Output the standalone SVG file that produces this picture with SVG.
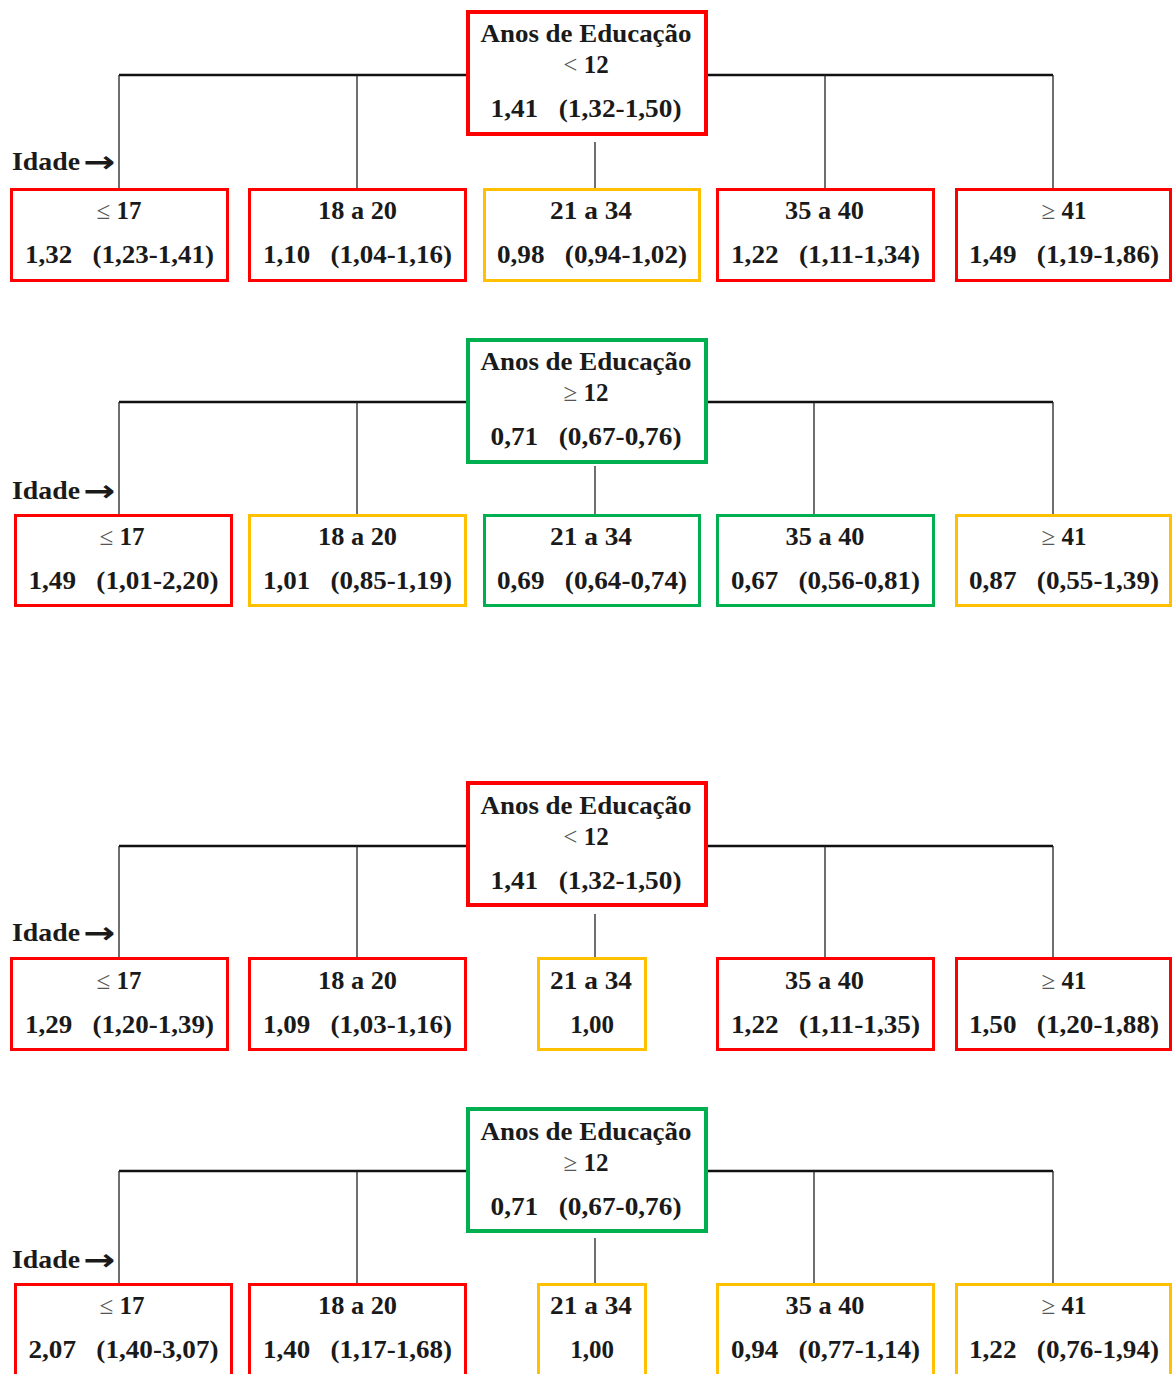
<svg xmlns="http://www.w3.org/2000/svg" width="1174" height="1374" viewBox="0 0 1174 1374">
<style>
text{font-family:"Liberation Serif","Times New Roman",serif;font-weight:bold;font-size:25px;fill:#1a1a1a;text-anchor:middle;white-space:pre}
.sym{font-weight:normal;fill:#555}
.p{fill:#fff;stroke-width:4}
.c{fill:#fff;stroke-width:3}
.red{stroke:#ff0000}
.yel{stroke:#ffc000}
.grn{stroke:#00b050}
.h{stroke:#111;stroke-width:2.4;fill:none}
.v{stroke:#222;stroke-width:1.3;fill:none}
.idade{text-anchor:start}
.arr{text-anchor:start;font-family:"DejaVu Sans",sans-serif;font-size:30px}
</style>
<rect width="1174" height="1374" fill="#fff"/>
<g id="connectors">
<path class="h" d="M119 75H466M708 75H1053"/>
<path class="v" d="M119 75V188M357 75V188M825 75V188M1053 75V188M595 142V188"/>
<path class="h" d="M119 402H466M708 402H1053"/>
<path class="v" d="M119 402V514M357 402V514M814 402V514M1053 402V514M595 466V514"/>
<path class="h" d="M119 846H466M708 846H1053"/>
<path class="v" d="M119 846V957M357 846V957M825 846V957M1053 846V957M595 914V957"/>
<path class="h" d="M119 1171H466M708 1171H1053"/>
<path class="v" d="M119 1171V1283M357 1171V1283M814 1171V1283M1053 1171V1283M595 1238V1283"/>
</g>
<g id="labels">
<text class="idade" x="12" y="170" textLength="68" lengthAdjust="spacingAndGlyphs">Idade</text>
<text class="arr" x="83" y="172" textLength="32" lengthAdjust="spacingAndGlyphs">→</text>
<text class="idade" x="12" y="499" textLength="68" lengthAdjust="spacingAndGlyphs">Idade</text>
<text class="arr" x="83" y="501" textLength="32" lengthAdjust="spacingAndGlyphs">→</text>
<text class="idade" x="12" y="941" textLength="68" lengthAdjust="spacingAndGlyphs">Idade</text>
<text class="arr" x="83" y="943" textLength="32" lengthAdjust="spacingAndGlyphs">→</text>
<text class="idade" x="12" y="1268" textLength="68" lengthAdjust="spacingAndGlyphs">Idade</text>
<text class="arr" x="83" y="1270" textLength="32" lengthAdjust="spacingAndGlyphs">→</text>
</g>
<!-- Section 1 -->
<g id="s1-parent">
<rect class="p red" x="468" y="12" width="238" height="122"/>
<text x="586" y="42" textLength="211" lengthAdjust="spacingAndGlyphs">Anos de Educação</text>
<text x="586" y="73"><tspan class="sym">&lt;</tspan> 12</text>
<text x="586" y="117" textLength="191" lengthAdjust="spacingAndGlyphs">1,41   (1,32-1,50)</text>
</g>
<g id="s1-c1"><rect class="c red" x="11.5" y="189.5" width="216" height="91"/>
<text x="119" y="219"><tspan class="sym">≤</tspan> 17</text>
<text x="119.5" y="263" textLength="189" lengthAdjust="spacingAndGlyphs">1,32   (1,23-1,41)</text></g>
<g id="s1-c2"><rect class="c red" x="249.5" y="189.5" width="216" height="91"/>
<text x="357.5" y="219" textLength="79" lengthAdjust="spacingAndGlyphs">18 a 20</text>
<text x="357.5" y="263" textLength="189" lengthAdjust="spacingAndGlyphs">1,10   (1,04-1,16)</text></g>
<g id="s1-c3"><rect class="c yel" x="484.5" y="189.5" width="215" height="91"/>
<text x="591" y="219" textLength="82" lengthAdjust="spacingAndGlyphs">21 a 34</text>
<text x="592" y="263" textLength="190" lengthAdjust="spacingAndGlyphs">0,98   (0,94-1,02)</text></g>
<g id="s1-c4"><rect class="c red" x="717.5" y="189.5" width="216" height="91"/>
<text x="824.5" y="219" textLength="79" lengthAdjust="spacingAndGlyphs">35 a 40</text>
<text x="825.5" y="263" textLength="189" lengthAdjust="spacingAndGlyphs">1,22   (1,11-1,34)</text></g>
<g id="s1-c5"><rect class="c red" x="956.5" y="189.5" width="214" height="91"/>
<text x="1064" y="219"><tspan class="sym">≥</tspan> 41</text>
<text x="1064" y="263" textLength="190" lengthAdjust="spacingAndGlyphs">1,49   (1,19-1,86)</text></g>
<!-- Section 2 -->
<g id="s2-parent">
<rect class="p grn" x="468" y="340" width="238" height="122"/>
<text x="586" y="370" textLength="211" lengthAdjust="spacingAndGlyphs">Anos de Educação</text>
<text x="586" y="401"><tspan class="sym">≥</tspan> 12</text>
<text x="586" y="445" textLength="191" lengthAdjust="spacingAndGlyphs">0,71   (0,67-0,76)</text>
</g>
<g id="s2-c1"><rect class="c red" x="15.5" y="515.5" width="216" height="90"/>
<text x="122" y="545"><tspan class="sym">≤</tspan> 17</text>
<text x="123.5" y="589" textLength="190" lengthAdjust="spacingAndGlyphs">1,49   (1,01-2,20)</text></g>
<g id="s2-c2"><rect class="c yel" x="249.5" y="515.5" width="216" height="90"/>
<text x="357.5" y="545" textLength="79" lengthAdjust="spacingAndGlyphs">18 a 20</text>
<text x="357.5" y="589" textLength="189" lengthAdjust="spacingAndGlyphs">1,01   (0,85-1,19)</text></g>
<g id="s2-c3"><rect class="c grn" x="484.5" y="515.5" width="215" height="90"/>
<text x="591" y="545" textLength="82" lengthAdjust="spacingAndGlyphs">21 a 34</text>
<text x="592" y="589" textLength="190" lengthAdjust="spacingAndGlyphs">0,69   (0,64-0,74)</text></g>
<g id="s2-c4"><rect class="c grn" x="717.5" y="515.5" width="216" height="90"/>
<text x="825" y="545" textLength="79" lengthAdjust="spacingAndGlyphs">35 a 40</text>
<text x="825.5" y="589" textLength="189" lengthAdjust="spacingAndGlyphs">0,67   (0,56-0,81)</text></g>
<g id="s2-c5"><rect class="c yel" x="956.5" y="515.5" width="214" height="90"/>
<text x="1064" y="545"><tspan class="sym">≥</tspan> 41</text>
<text x="1064" y="589" textLength="190" lengthAdjust="spacingAndGlyphs">0,87   (0,55-1,39)</text></g>
<!-- Section 3 -->
<g id="s3-parent">
<rect class="p red" x="468" y="783" width="238" height="122"/>
<text x="586" y="814" textLength="211" lengthAdjust="spacingAndGlyphs">Anos de Educação</text>
<text x="586" y="845"><tspan class="sym">&lt;</tspan> 12</text>
<text x="586" y="889" textLength="191" lengthAdjust="spacingAndGlyphs">1,41   (1,32-1,50)</text>
</g>
<g id="s3-c1"><rect class="c red" x="11.5" y="958.5" width="216" height="91"/>
<text x="119" y="989"><tspan class="sym">≤</tspan> 17</text>
<text x="119.5" y="1033" textLength="189" lengthAdjust="spacingAndGlyphs">1,29   (1,20-1,39)</text></g>
<g id="s3-c2"><rect class="c red" x="249.5" y="958.5" width="216" height="91"/>
<text x="357.5" y="989" textLength="79" lengthAdjust="spacingAndGlyphs">18 a 20</text>
<text x="357.5" y="1033" textLength="189" lengthAdjust="spacingAndGlyphs">1,09   (1,03-1,16)</text></g>
<g id="s3-c3"><rect class="c yel" x="538.5" y="958.5" width="107" height="91"/>
<text x="591" y="989" textLength="82" lengthAdjust="spacingAndGlyphs">21 a 34</text>
<text x="592" y="1033">1,00</text></g>
<g id="s3-c4"><rect class="c red" x="717.5" y="958.5" width="216" height="91"/>
<text x="824.5" y="989" textLength="79" lengthAdjust="spacingAndGlyphs">35 a 40</text>
<text x="825.5" y="1033" textLength="189" lengthAdjust="spacingAndGlyphs">1,22   (1,11-1,35)</text></g>
<g id="s3-c5"><rect class="c red" x="956.5" y="958.5" width="214" height="91"/>
<text x="1064" y="989"><tspan class="sym">≥</tspan> 41</text>
<text x="1064" y="1033" textLength="190" lengthAdjust="spacingAndGlyphs">1,50   (1,20-1,88)</text></g>
<!-- Section 4 -->
<g id="s4-parent">
<rect class="p grn" x="468" y="1109" width="238" height="122"/>
<text x="586" y="1140" textLength="211" lengthAdjust="spacingAndGlyphs">Anos de Educação</text>
<text x="586" y="1171"><tspan class="sym">≥</tspan> 12</text>
<text x="586" y="1215" textLength="191" lengthAdjust="spacingAndGlyphs">0,71   (0,67-0,76)</text>
</g>
<g id="s4-c1"><rect class="c red" x="15.5" y="1284.5" width="216" height="100"/>
<text x="122" y="1314"><tspan class="sym">≤</tspan> 17</text>
<text x="123.5" y="1358" textLength="190" lengthAdjust="spacingAndGlyphs">2,07   (1,40-3,07)</text></g>
<g id="s4-c2"><rect class="c red" x="249.5" y="1284.5" width="216" height="100"/>
<text x="357.5" y="1314" textLength="79" lengthAdjust="spacingAndGlyphs">18 a 20</text>
<text x="357.5" y="1358" textLength="189" lengthAdjust="spacingAndGlyphs">1,40   (1,17-1,68)</text></g>
<g id="s4-c3"><rect class="c yel" x="538.5" y="1284.5" width="107" height="100"/>
<text x="591" y="1314" textLength="82" lengthAdjust="spacingAndGlyphs">21 a 34</text>
<text x="592" y="1358">1,00</text></g>
<g id="s4-c4"><rect class="c yel" x="717.5" y="1284.5" width="216" height="100"/>
<text x="825" y="1314" textLength="79" lengthAdjust="spacingAndGlyphs">35 a 40</text>
<text x="825.5" y="1358" textLength="189" lengthAdjust="spacingAndGlyphs">0,94   (0,77-1,14)</text></g>
<g id="s4-c5"><rect class="c yel" x="956.5" y="1284.5" width="214" height="100"/>
<text x="1064" y="1314"><tspan class="sym">≥</tspan> 41</text>
<text x="1064" y="1358" textLength="190" lengthAdjust="spacingAndGlyphs">1,22   (0,76-1,94)</text></g>
</svg>
